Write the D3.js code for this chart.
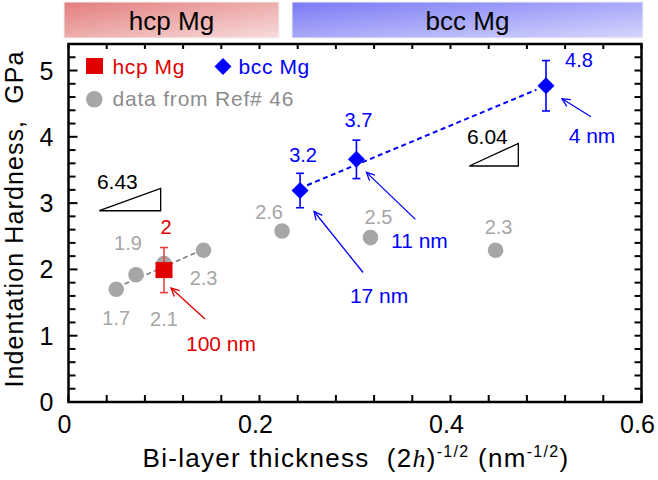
<!DOCTYPE html>
<meta charset="utf-8">
<style>
body { margin: 0; background: #fff; }
svg { font-family: "Liberation Sans", Arial, sans-serif; }
.pre { white-space: pre; }
</style>
<body>
<script src="https://d3js.org/d3.v7.min.js"></script>
<script>

// data (x = (2h)^-1/2 in nm^-1/2, y = hardness in GPa)
var bccX = [0.2425, 0.3015, 0.5];
var bccY = [3.19, 3.66, 4.77];
var bccErr = [0.26, 0.29, 0.38];
var bccLabels = ["3.2", "3.7", "4.8"];
var bccSizes = ["17 nm", "11 nm", "4 nm"];

var hcpX = [0.1];
var hcpY = [1.99];
var hcpErr = [0.34];
var hcpLabels = ["2"];
var hcpSizes = ["100 nm"];

var refX = [0.05, 0.0707, 0.1, 0.1414, 0.2236, 0.3162, 0.4472];
var refY = [1.70, 1.92, 2.09, 2.29, 2.58, 2.48, 2.29];
var refLabels = ["1.7", "1.9", "2.1", "2.3", "2.6", "2.5", "2.3"];

// fitted lines as drawn (end points)
var bccFit = [[0.25, 3.27], [0.49, 4.71]];
var refFit = [[0.051, 1.73], [0.141, 2.30]];

// slope triangles [x0, x1, yBase, yTop]
var slopeTri = [[0.0323, 0.0965, 2.885, 3.223], [0.4197, 0.471, 3.56, 3.90]];
var slopeLabels = ["6.43", "6.04"];

var xTicks = [0, 0.2, 0.4, 0.6];
var yTicks = [0, 1, 2, 3, 4, 5];

var red = "#e00000", blue = "#0000ff", grey = "#a6a6a6";

var svg = d3.select("body").append("svg")
    .attr("width", 658)
    .attr("height", 480);

var x = d3.scaleLinear().domain([0, 0.6]).range([68.5, 641.5]);
var y = d3.scaleLinear().domain([0, 5.4]).range([402, 44]);

//top phase boxes
var defs = svg.append("defs");
function grad(id, c0, c1) {
  var g = defs.append("linearGradient").attr("id", id)
      .attr("x1", 0).attr("y1", 0).attr("x2", 1).attr("y2", 1);
  g.append("stop").attr("offset", 0).attr("stop-color", c0);
  g.append("stop").attr("offset", 1).attr("stop-color", c1);
}
grad("gHcp", "#e37d7d", "#f8dcdc");
grad("gBcc", "#7a7af5", "#d6d6fd");

var boxes = [
  {x0: 64, x1: 279, fill: "url(#gHcp)", text: "hcp Mg"},
  {x0: 292, x1: 643, fill: "url(#gBcc)", text: "bcc Mg"}
];
boxes.forEach(function(b) {
  svg.append("rect")
      .attr("x", b.x0).attr("y", 2)
      .attr("width", b.x1 - b.x0).attr("height", 36)
      .attr("fill", b.fill)
      .attr("stroke", "#f2f2f2").attr("stroke-width", 1);
  svg.append("text")
      .attr("x", (b.x0 + b.x1) / 2).attr("y", 29.5)
      .attr("text-anchor", "middle")
      .style("font-size", "26px")
      .text(b.text);
});

//frame + ticks
var minorY = d3.range(0, 5.41, 0.2);
var minorX = d3.range(0, 0.601, 0.04);

var ax = svg.append("g");
minorY.forEach(function(v) {
  var major = Math.abs(v - Math.round(v)) < 1e-6;
  ax.append("line")
      .attr("x1", x(0)).attr("x2", x(0) + (major ? 9 : 7))
      .attr("y1", y(v)).attr("y2", y(v))
      .attr("stroke", "#000").attr("stroke-width", 2);
  ax.append("line")
      .attr("x1", x(0.6)).attr("x2", x(0.6) - 7)
      .attr("y1", y(v)).attr("y2", y(v))
      .attr("stroke", "#000").attr("stroke-width", 2);
});
minorX.forEach(function(v) {
  ax.append("line")
      .attr("x1", x(v)).attr("x2", x(v))
      .attr("y1", y(0)).attr("y2", y(0) - 7)
      .attr("stroke", "#000").attr("stroke-width", 2);
  ax.append("line")
      .attr("x1", x(v)).attr("x2", x(v))
      .attr("y1", y(5.4)).attr("y2", y(5.4) + 5)
      .attr("stroke", "#000").attr("stroke-width", 2);
});
ax.append("rect")
    .attr("x", x(0)).attr("y", y(5.4))
    .attr("width", x(0.6) - x(0)).attr("height", y(0) - y(5.4))
    .attr("fill", "none").attr("stroke", "#000").attr("stroke-width", 2.5);

svg.selectAll(".ylab")
  .data(yTicks)
  .enter().append("text")
    .attr("class", "ylab")
    .attr("x", 53.5)
    .attr("y", function(d) { return y(d) + 9; })
    .attr("text-anchor", "end")
    .style("font-size", "25px")
    .text(function(d) { return d; });

svg.selectAll(".xlab")
  .data(xTicks)
  .enter().append("text")
    .attr("class", "xlab")
    .attr("x", function(d) { return x(d) - 4; })
    .attr("y", 433)
    .attr("text-anchor", "middle")
    .style("font-size", "25px")
    .text(function(d) { return d; });

//axis titles
svg.append("text")
    .attr("class", "pre")
    .attr("transform", "translate(23,219) rotate(-90)")
    .attr("text-anchor", "middle")
    .style("font-size", "25px")
    .style("letter-spacing", "1.1px")
    .text("Indentation Hardness,  GPa");

var xt = svg.append("text")
    .attr("class", "pre")
    .attr("x", 142.5).attr("y", 467)
    .style("font-size", "26px")
    .style("letter-spacing", "1.3px");
xt.append("tspan").text("Bi-layer thickness  (2");
xt.append("tspan").style("font-family", "'Liberation Serif', serif")
    .style("font-style", "italic").text("h");
xt.append("tspan").text(")");
xt.append("tspan").attr("dy", -10).style("font-size", "16px").text("-1/2");
xt.append("tspan").attr("dy", 10).text(" (nm");
xt.append("tspan").attr("dy", -10).style("font-size", "16px").text("-1/2");
xt.append("tspan").attr("dy", 10).text(")");

//fit lines
var line = d3.line().x(function(d) { return x(d[0]); }).y(function(d) { return y(d[1]); });
svg.append("path").datum(refFit)
    .attr("d", line).attr("fill", "none")
    .attr("stroke", "#7f7f7f").attr("stroke-width", 1.6)
    .attr("stroke-dasharray", "5,3");
svg.append("path").datum(bccFit)
    .attr("d", line).attr("fill", "none")
    .attr("stroke", blue).attr("stroke-width", 2)
    .attr("stroke-dasharray", "5,3.5");

//slope triangles
slopeTri.forEach(function(t, i) {
  svg.append("path")
      .attr("d", "M" + x(t[0]) + "," + y(t[2]) + "L" + x(t[1]) + "," + y(t[3]) +
                 "L" + x(t[1]) + "," + y(t[2]) + "Z")
      .attr("fill", "none").attr("stroke", "#000").attr("stroke-width", 1.3);
  svg.append("text")
      .attr("x", x(t[0]) + 18)
      .attr("y", y(t[3]) + 1)
      .attr("text-anchor", "middle")
      .style("font-size", "21px")
      .text(slopeLabels[i]);
});

//reference points
svg.selectAll(".ref")
  .data(refX)
  .enter().append("circle")
    .attr("class", "ref")
    .attr("cx", function(d) { return x(d); })
    .attr("cy", function(d, i) { return y(refY[i]); })
    .attr("r", 7.8)
    .attr("fill", grey);

var refOff = [[0, 29], [-8, -32], [0, 56], [0, 28], [-13, -19], [8, -21], [3, -23]];
svg.selectAll(".reflab")
  .data(refLabels)
  .enter().append("text")
    .attr("class", "reflab")
    .attr("x", function(d, i) { return x(refX[i]) + refOff[i][0]; })
    .attr("y", function(d, i) { return y(refY[i]) + refOff[i][1] + 7; })
    .attr("text-anchor", "middle")
    .attr("fill", grey)
    .style("font-size", "20px")
    .text(function(d) { return d; });

//error bars
function errBars(xs, ys, es, color) {
  xs.forEach(function(xv, i) {
    var cx = x(xv), top = y(ys[i] + es[i]), bot = y(ys[i] - es[i]);
    var g = svg.append("g").attr("stroke", color).attr("stroke-width", 1.6);
    g.append("line").attr("x1", cx).attr("x2", cx).attr("y1", top).attr("y2", bot);
    g.append("line").attr("x1", cx - 4).attr("x2", cx + 4).attr("y1", top).attr("y2", top);
    g.append("line").attr("x1", cx - 4).attr("x2", cx + 4).attr("y1", bot).attr("y2", bot);
  });
}
errBars(hcpX, hcpY, hcpErr, "#e84040");
errBars(bccX, bccY, bccErr, blue);

//hcp squares
svg.selectAll(".hcp")
  .data(hcpX)
  .enter().append("rect")
    .attr("class", "hcp")
    .attr("x", function(d) { return x(d) - 8.5; })
    .attr("y", function(d, i) { return y(hcpY[i]) - 8; })
    .attr("width", 17).attr("height", 16)
    .attr("fill", red);

//bcc diamonds
var diamond = "M0,-8.5L8.5,0L0,8.5L-8.5,0Z";
svg.selectAll(".bcc")
  .data(bccX)
  .enter().append("path")
    .attr("class", "bcc")
    .attr("transform", function(d, i) { return "translate(" + x(d) + "," + y(bccY[i]) + ")"; })
    .attr("d", diamond)
    .attr("fill", blue);

//value labels
var bccOff = [[3, -36], [2, -39], [33, -26]];
svg.selectAll(".bcclab")
  .data(bccLabels)
  .enter().append("text")
    .attr("x", function(d, i) { return x(bccX[i]) + bccOff[i][0]; })
    .attr("y", function(d, i) { return y(bccY[i]) + bccOff[i][1] + 7; })
    .attr("text-anchor", "middle")
    .attr("fill", blue)
    .style("font-size", "20px")
    .text(function(d) { return d; });

svg.selectAll(".hcplab")
  .data(hcpLabels)
  .enter().append("text")
    .attr("x", function(d, i) { return x(hcpX[i]) + 2; })
    .attr("y", function(d, i) { return y(hcpY[i]) - 43 + 7; })
    .attr("text-anchor", "middle")
    .attr("fill", red)
    .style("font-size", "20px")
    .text(function(d) { return d; });

//thickness arrows: [head dx, head dy, tail dx, tail dy, text dx, text dy]
function arrows(xs, ys, names, offs, color) {
  xs.forEach(function(xv, i) {
    var px = x(xv), py = y(ys[i]), o = offs[i];
    var hx = px + o[0], hy = py + o[1], tx = px + o[2], ty = py + o[3];
    var a = Math.atan2(ty - hy, tx - hx), L = 9, s = 0.45;
    var g = svg.append("g").attr("stroke", color).attr("stroke-width", 1.3).attr("fill", "none");
    g.append("line").attr("x1", tx).attr("y1", ty).attr("x2", hx).attr("y2", hy);
    g.append("path").attr("d",
        "M" + (hx + L * Math.cos(a + s)) + "," + (hy + L * Math.sin(a + s)) +
        "L" + hx + "," + hy +
        "L" + (hx + L * Math.cos(a - s)) + "," + (hy + L * Math.sin(a - s)));
    svg.append("text")
        .attr("x", px + o[4]).attr("y", py + o[5] + 7.5)
        .attr("text-anchor", "middle")
        .attr("fill", color)
        .style("font-size", "21px")
        .text(names[i]);
  });
}
arrows(bccX, bccY, bccSizes, [[14, 21, 63, 82, 79, 105], [10, 13, 59, 60, 63, 81], [16, 13, 45, 31, 46, 50]], blue);
arrows(hcpX, hcpY, hcpSizes, [[7, 18, 41, 49, 57, 73]], red);

//legend
var lg = svg.append("g");
lg.append("rect").attr("x", 86).attr("y", 58).attr("width", 17).attr("height", 16).attr("fill", red);
lg.append("text").attr("x", 112.5).attr("y", 74).attr("fill", red)
    .style("font-size", "21px").style("letter-spacing", "0.6px").text("hcp Mg");
lg.append("path").attr("transform", "translate(223,66.5)").attr("d", diamond).attr("fill", blue);
lg.append("text").attr("x", 238.5).attr("y", 74).attr("fill", blue)
    .style("font-size", "21px").style("letter-spacing", "0.6px").text("bcc Mg");
lg.append("circle").attr("cx", 94.3).attr("cy", 99.3).attr("r", 8.3).attr("fill", grey);
lg.append("text").attr("x", 112.5).attr("y", 106).attr("fill", "#8c8c8c")
    .style("font-size", "21px").style("letter-spacing", "0.8px").text("data from Ref# 46");

</script>
</body>
